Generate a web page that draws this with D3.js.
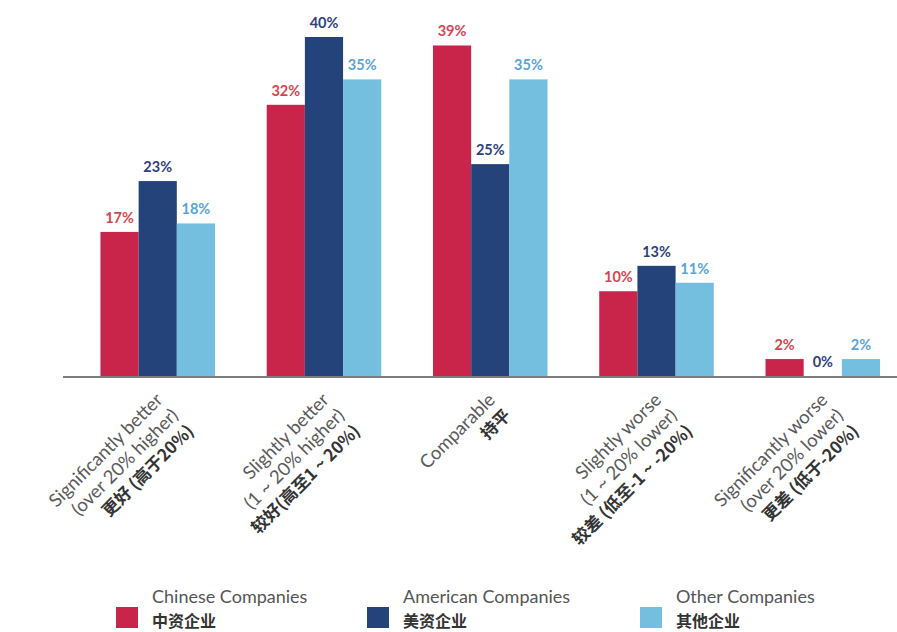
<!DOCTYPE html>
<html>
<head>
<meta charset="utf-8">
<script src="https://cdn.jsdelivr.net/npm/d3@7"></script>
<style>
  html, body { margin: 0; padding: 0; background: #fff; }
  svg { display: block; }
</style>
</head>
<body>
<div id="chart"></div>
<script>
// ---- data ----
const categories = ["Significantly better", "Slightly better", "Comparable", "Slightly worse", "Significantly worse"];
const categoryLines = [
  ["Significantly better", "(over 20% higher)", "更好 (高于20%)"],
  ["Slightly better", "(1 ~ 20% higher)", "较好(高至1 ~ 20%)"],
  ["Comparable", "持平"],
  ["Slightly worse", "(1 ~ 20% lower)", "较差 (低至-1 ~ -20%)"],
  ["Significantly worse", "(over 20% lower)", "更差 (低于-20%)"]
];
const seriesKeys = ["chinese", "american", "other"];
const seriesNames = ["Chinese Companies", "American Companies", "Other Companies"];
const seriesNamesZh = ["中资企业", "美资企业", "其他企业"];
const chineseValues = [17, 32, 39, 10, 2];
const americanValues = [23, 40, 25, 13, 0];
const otherValues = [18, 35, 35, 11, 2];

// ---- styles ----
const barColors = ["#c9254a", "#24437a", "#74bfe0"];
const labelColors = ["#d4464f", "#2f3f7c", "#5aa3d6"];
const W = 897, H = 632;

const values = [chineseValues, americanValues, otherValues];
const rows = categories.map((c, i) => {
  const r = { category: c };
  seriesKeys.forEach((k, j) => r[k] = values[j][i]);
  return r;
});

const svg = d3.select("#chart").append("svg")
  .attr("width", W).attr("height", H)
  .attr("viewBox", `0 0 ${W} ${H}`);

const x0 = d3.scaleBand().domain(categories)
  .range([75.5, 905]).paddingInner(0.311).paddingOuter(0.15);
const x1 = d3.scaleBand().domain(seriesKeys).range([0, x0.bandwidth()]);
const y = d3.scaleLinear().domain([0, 40]).range([376, 37]);

// bars
const groups = svg.append("g").selectAll("g").data(rows).join("g")
  .attr("transform", d => `translate(${x0(d.category)},0)`);

groups.selectAll("rect").data(d => seriesKeys.map((k, j) => ({ key: k, j, v: d[k] })))
  .join("rect")
  .attr("x", d => x1(d.key))
  .attr("width", x1.bandwidth())
  .attr("y", d => y(d.v))
  .attr("height", d => y(0) - y(d.v))
  .attr("fill", d => barColors[d.j]);

groups.selectAll("text").data(d => seriesKeys.map((k, j) => ({ key: k, j, v: d[k] })))
  .join("text")
  .attr("x", d => x1(d.key) + x1.bandwidth() / 2)
  .attr("y", d => y(d.v) - 9)
  .attr("text-anchor", "middle")
  .attr("font-family", "Lato, 'Noto Sans', sans-serif")
  .attr("font-weight", "bold")
  .attr("font-size", 14.5)
  .attr("fill", d => labelColors[d.j])
  .text(d => d.v + "%");

// baseline axis
const axis = d3.axisBottom(x0).tickSize(0).tickFormat("");
const axisG = svg.append("g").attr("transform", `translate(0,${y(0) + 1})`).call(axis);
axisG.select(".domain").attr("d", `M63,0H897`).attr("stroke", "#7d7d7d").attr("stroke-width", 2);

// category labels (rotated)
const lh = 22;
const labG = svg.append("g");
categories.forEach((c, i) => {
  const cx = x0(c) + x0.bandwidth() / 2 + 6;
  const t = labG.append("text")
    .attr("transform", `translate(${cx},401) rotate(-45)`)
    .attr("text-anchor", "end");
  const lines = categoryLines[i];
  lines.forEach((ln, k) => {
    const isZh = /[\u4e00-\u9fff]/.test(ln);
    t.append("tspan")
      .attr("x", 0)
      .attr("y", k * lh)
      .attr("font-family", isZh ? "'Noto Sans CJK SC', sans-serif" : "Lato, 'Noto Sans', sans-serif")
      .attr("font-weight", isZh ? "bold" : "normal")
      .attr("font-size", isZh ? 17 : 18.5)
      .attr("fill", isZh ? "#333" : "#5a5a5a")
      .text(ln);
  });
});

// legend
const legendX = [116, 367, 640];
const leg = svg.append("g").selectAll("g").data(seriesKeys).join("g")
  .attr("transform", (d, j) => `translate(${legendX[j]},0)`);
leg.append("rect").attr("x", 0).attr("y", 607).attr("width", 22).attr("height", 21)
  .attr("fill", (d, j) => barColors[j]);
leg.append("text").attr("x", 36).attr("y", 603)
  .attr("font-family", "Lato, 'Noto Sans', sans-serif")
  .attr("font-size", 18).attr("fill", "#555")
  .text((d, j) => seriesNames[j]);
leg.append("text").attr("x", 36).attr("y", 627)
  .attr("font-family", "'Noto Sans CJK SC', sans-serif")
  .attr("font-weight", "bold")
  .attr("font-size", 16).attr("fill", "#333")
  .text((d, j) => seriesNamesZh[j]);
</script>
</body>
</html>
